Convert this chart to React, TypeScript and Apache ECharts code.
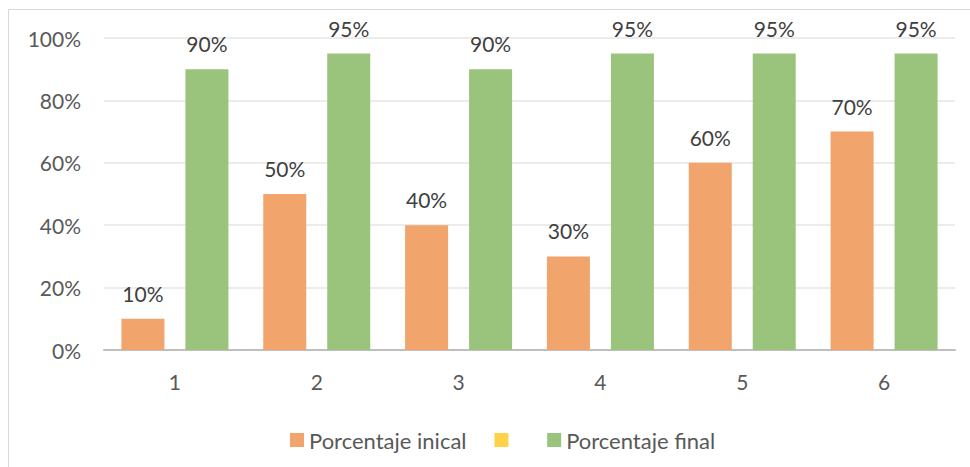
import React, { useEffect, useRef } from "react";
import * as echarts from "echarts";

const categories = ["1", "2", "3", "4", "5", "6"];
const inicial = [10, 50, 40, 30, 60, 70];
const vacio: (number | null)[] = [null, null, null, null, null, null];
const final = [90, 95, 90, 95, 95, 95];
const seriesNames = ["Porcentaje inical", " ", "Porcentaje final"];

const FONT = "Lato";

export default function App() {
  const ref = useRef<HTMLDivElement>(null);
  useEffect(() => {
    if (!ref.current) return;
    const chart = echarts.init(ref.current, null, { renderer: "svg" });
    const label = {
      show: true,
      position: "top" as const,
      distance: 15,
      formatter: "{c}%",
      color: "#404040",
      fontSize: 21,
      fontFamily: FONT,
    };
    chart.setOption({
      animation: false,
      backgroundColor: "#ffffff",
      graphic: [
        {
          type: "rect",
          shape: { x: 8.5, y: 9.5, width: 1000, height: 500 },
          style: { fill: "none", stroke: "#D9D9D9", lineWidth: 1 },
          silent: true,
        },
      ],
      grid: { left: 104, right: 15, top: 38, bottom: 117 },
      legend: {
        left: 285,
        top: 424,
        itemWidth: 14,
        itemHeight: 14,
        itemGap: 28,
        icon: "rect",
        data: seriesNames,
        textStyle: { color: "#595959", fontSize: 22, fontFamily: FONT },
      },
      xAxis: {
        type: "category",
        data: categories,
        axisTick: { show: false },
        axisLine: { lineStyle: { color: "#BFBFBF", width: 2 } },
        axisLabel: { color: "#595959", fontSize: 21, fontFamily: FONT, margin: 21 },
      },
      yAxis: {
        type: "value",
        min: 0,
        max: 100,
        interval: 20,
        axisLine: { show: false },
        axisTick: { show: false },
        splitLine: { lineStyle: { color: "#E6E6E6", width: 1.5 } },
        axisLabel: {
          formatter: "{value}%",
          color: "#595959",
          fontSize: 21,
          fontFamily: FONT,
          margin: 23,
        },
      },
      series: [
        {
          name: seriesNames[0],
          type: "bar",
          data: inicial,
          barWidth: 43,
          barGap: "-25.6%",
          itemStyle: { color: "#F1A46C" },
          label,
        },
        {
          name: seriesNames[1],
          type: "bar",
          data: vacio,
          barWidth: 43,
          barGap: "-25.6%",
          itemStyle: { color: "#FFD24A" },
        },
        {
          name: seriesNames[2],
          type: "bar",
          data: final,
          barWidth: 43,
          barGap: "-25.6%",
          itemStyle: { color: "#9AC47C" },
          label,
        },
      ],
    });
    return () => chart.dispose();
  }, []);
  return (
    <div
      ref={ref}
      style={{ position: "absolute", left: 0, top: 0, width: 970, height: 467 }}
    />
  );
}
